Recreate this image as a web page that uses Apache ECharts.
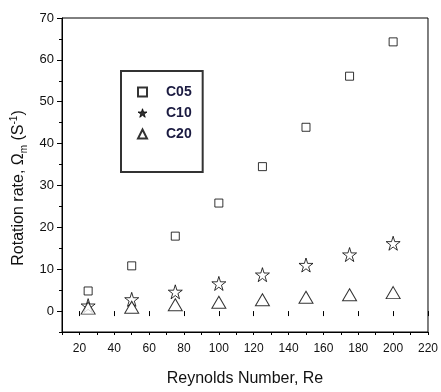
<!DOCTYPE html>
<html>
<head>
<meta charset="utf-8">
<script src="https://cdn.jsdelivr.net/npm/echarts@6/dist/echarts.min.js"></script>
<style>
  html, body { margin: 0; padding: 0; background: #fff; }
  #chart { width: 441px; height: 392px; }
</style>
</head>
<body>
<div id="chart"></div>
<script>
// Reynolds numbers at which the rotation rate was measured
const reynolds = [25, 50, 75, 100, 125, 150, 175, 200];
// Rotation rate (1/s) for each configuration
const c05 = [4.8, 10.8, 17.9, 25.8, 34.5, 43.9, 56.1, 64.3];
const c10 = [1.3, 2.8, 4.6, 6.6, 8.7, 11.0, 13.5, 16.2];
const c20 = [0.7, 0.9, 1.5, 2.1, 2.7, 3.3, 3.9, 4.4];
const seriesNames = ['C05', 'C10', 'C20'];
const xMajorTicks = [20, 40, 60, 80, 100, 120, 140, 160, 180, 200, 220];
const yMajorTicks = [0, 10, 20, 30, 40, 50, 60, 70];

const STAR = 'path://M50,0 L61,35 L98,35 L68,57 L79,91 L50,70 L21,91 L32,57 L2,35 L39,35 Z';
const FONT = 'Liberation Sans, Arial, sans-serif';
const INK = '#111';

function pairs(ys) { return reynolds.map((x, i) => [x, ys[i]]); }

const chart = echarts.init(document.getElementById('chart'), null, { renderer: 'canvas' });

const hollow = { color: '#fff', borderColor: '#000', borderWidth: 1 };

chart.setOption({
  animation: false,
  backgroundColor: '#fff',
  grid: {
    left: 62, right: 10, top: 18, bottom: 58,
    show: true, borderColor: '#000', borderWidth: 1, backgroundColor: 'transparent'
  },
  legend: {
    orient: 'vertical',
    left: 121, top: 71,
    padding: [14, 11, 31, 16],
    borderColor: '#333', borderWidth: 2,
    itemWidth: 9, itemHeight: 9, itemGap: 7,
    textStyle: { fontFamily: FONT, fontSize: 14, fontWeight: 'bold', color: '#1a1a40', padding: [0, 0, 0, 14] },
    data: [
      { name: 'C05', icon: 'rect', itemStyle: { color: '#fff', borderColor: '#000', borderWidth: 2 } },
      { name: 'C10', icon: STAR, itemStyle: { color: '#000', borderColor: '#000', borderWidth: 1 } },
      { name: 'C20', icon: 'triangle', itemStyle: { color: '#fff', borderColor: '#000', borderWidth: 2 } }
    ]
  },
  xAxis: [
    {
      type: 'value', min: 10, max: 220, interval: 10,
      axisLine: { show: true, onZero: false, lineStyle: { color: '#000' } },
      axisTick: { show: true, length: 3, lineStyle: { color: '#000' } },
      axisLabel: { show: false },
      splitLine: { show: false },
      name: 'Reynolds Number, Re',
      nameLocation: 'middle', nameGap: 39,
      nameTextStyle: { fontFamily: FONT, fontSize: 16, color: INK }
    },
    {
      type: 'value', min: 10, max: 220, position: 'bottom',
      axisLine: { show: false },
      axisTick: { show: true, length: 5, customValues: xMajorTicks, lineStyle: { color: '#000' } },
      axisLabel: { show: true, customValues: xMajorTicks, margin: 11, fontFamily: FONT, fontSize: 12, color: INK },
      splitLine: { show: false }
    }
  ],
  yAxis: [
    {
      type: 'value', min: -5, max: 70, interval: 5,
      axisLine: { show: true, onZero: false, lineStyle: { color: '#000' } },
      axisTick: { show: true, length: 3, lineStyle: { color: '#000' } },
      axisLabel: { show: false },
      splitLine: { show: false },
      name: 'Rotation rate, Ω{sub|m} (S{sup|-1})',
      nameLocation: 'middle', nameGap: 33, nameRotate: 90,
      nameTextStyle: {
        fontFamily: FONT, fontSize: 16, color: INK, padding: [0, 26, 0, 0],
        rich: {
          sub: { fontFamily: FONT, fontSize: 10, color: INK, padding: [10, 0, 0, 0] },
          sup: { fontFamily: FONT, fontSize: 10, color: INK, padding: [0, 0, 10, 0] }
        }
      }
    },
    {
      type: 'value', min: -5, max: 70, position: 'left',
      axisLine: { show: false },
      axisTick: { show: true, length: 5, customValues: yMajorTicks, lineStyle: { color: '#000' } },
      axisLabel: { show: true, customValues: yMajorTicks, margin: 8, fontFamily: FONT, fontSize: 13, color: INK },
      splitLine: { show: false }
    }
  ],
  series: [
    { name: seriesNames[0], type: 'scatter', symbol: 'rect', symbolSize: 8, itemStyle: hollow, data: pairs(c05) },
    { name: seriesNames[1], type: 'scatter', symbol: STAR, symbolSize: 14, itemStyle: hollow, data: pairs(c10) },
    { name: seriesNames[2], type: 'scatter', symbol: 'triangle', symbolSize: [14, 12], itemStyle: hollow, data: pairs(c20) }
  ]
});
</script>
</body>
</html>
